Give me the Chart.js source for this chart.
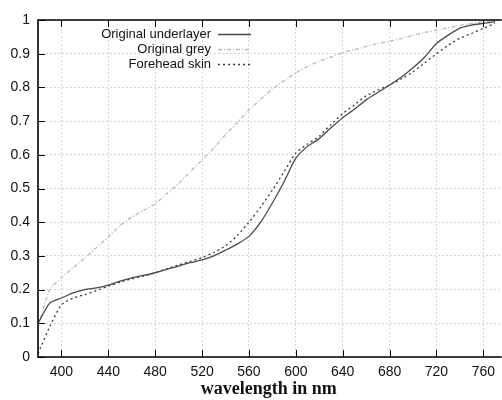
<!DOCTYPE html>
<html>
<head>
<meta charset="utf-8">
<script src="https://cdn.jsdelivr.net/npm/chart.js@4.4.1/dist/chart.umd.min.js"></script>
<style>
  html, body { margin: 0; padding: 0; background: #fff; }
  #wrap { width: 502px; height: 400px; }
</style>
</head>
<body>
<div id="wrap"><canvas id="c" width="502" height="400"></canvas></div>
<script>
// Wavelengths (nm) at which the reflectance curves are sampled
const wavelengths = [380, 390, 400, 410, 420, 430, 440, 450, 460, 470,
                     480, 490, 500, 510, 520, 530, 540, 550, 560, 570,
                     580, 590, 600, 610, 620, 630, 640, 650, 660, 670,
                     680, 690, 700, 710, 720, 730, 740, 750, 760, 770];

// Normalised reflectance of each sample
const underlayer = [0.10, 0.16, 0.175, 0.19, 0.20, 0.205, 0.213, 0.225, 0.235, 0.242,
                    0.25, 0.26, 0.27, 0.28, 0.288, 0.30, 0.317, 0.335, 0.358, 0.40,
                    0.457, 0.52, 0.59, 0.625, 0.648, 0.68, 0.71, 0.735, 0.763, 0.785,
                    0.807, 0.83, 0.858, 0.89, 0.93, 0.955, 0.976, 0.985, 0.99, 0.995];

const grey = [0.09, 0.20, 0.235, 0.265, 0.294, 0.325, 0.356, 0.39, 0.415, 0.435,
              0.455, 0.485, 0.515, 0.55, 0.585, 0.62, 0.66, 0.695, 0.733, 0.765,
              0.795, 0.82, 0.843, 0.862, 0.878, 0.89, 0.903, 0.912, 0.922, 0.93,
              0.937, 0.945, 0.955, 0.963, 0.97, 0.977, 0.984, 0.99, 0.995, 0.998];

const forehead = [0.01, 0.09, 0.155, 0.175, 0.185, 0.197, 0.21, 0.222, 0.232, 0.24,
                  0.25, 0.262, 0.273, 0.284, 0.295, 0.31, 0.33, 0.36, 0.40, 0.445,
                  0.495, 0.55, 0.605, 0.632, 0.655, 0.69, 0.722, 0.748, 0.775, 0.792,
                  0.807, 0.825, 0.846, 0.873, 0.90, 0.925, 0.946, 0.96, 0.975, 0.99];

const seriesNames = ['Original underlayer', 'Original grey', 'Forehead skin'];

// Axis tick values
const xTicks = [400, 440, 480, 520, 560, 600, 640, 680, 720, 760];
const yTicks = [0, 0.1, 0.2, 0.3, 0.4, 0.5, 0.6, 0.7, 0.8, 0.9, 1];
const yTickLabels = ['0', '0.1', '0.2', '0.3', '0.4', '0.5', '0.6', '0.7', '0.8', '0.9', '1'];

const toPoints = arr => arr.map((v, i) => ({ x: wavelengths[i], y: v }));

// Inward tick marks, frame and the key in the upper left
const framePlugin = {
  id: 'frame',
  afterDraw(chart) {
    const { ctx, chartArea: a, scales } = chart;
    ctx.save();
    ctx.strokeStyle = '#000';
    ctx.lineWidth = 1;
    const tl = 7;
    ctx.beginPath();
    scales.x.ticks.forEach(t => {
      const px = Math.round(scales.x.getPixelForValue(t.value)) + 0.5;
      ctx.moveTo(px, a.bottom); ctx.lineTo(px, a.bottom - tl);
      ctx.moveTo(px, a.top); ctx.lineTo(px, a.top + tl);
    });
    scales.y.ticks.forEach(t => {
      const py = Math.round(scales.y.getPixelForValue(t.value)) + 0.5;
      ctx.moveTo(a.left, py); ctx.lineTo(a.left + tl, py);
    });
    ctx.stroke();
    // frame
    ctx.lineWidth = 1.6;
    ctx.beginPath();
    ctx.moveTo(a.right + 2, a.top);
    ctx.lineTo(a.left, a.top);
    ctx.lineTo(a.left, a.bottom);
    ctx.lineTo(a.right + 2, a.bottom);
    ctx.stroke();

    // key
    ctx.font = '13px "Liberation Sans", Arial, sans-serif';
    ctx.textAlign = 'right';
    ctx.textBaseline = 'middle';
    const textRight = 211, x0 = 218, x1 = 251;
    const rowY = [34, 49, 64];
    chart.data.datasets.forEach((ds, i) => {
      ctx.fillStyle = '#111';
      ctx.fillText(ds.label, textRight, rowY[i]);
      ctx.strokeStyle = ds.borderColor;
      ctx.lineWidth = ds.borderWidth;
      ctx.setLineDash(ds.borderDash || []);
      ctx.beginPath();
      ctx.moveTo(x0, rowY[i] + 0.5);
      ctx.lineTo(x1, rowY[i] + 0.5);
      ctx.stroke();
      ctx.setLineDash([]);
    });
    ctx.restore();
  }
};

new Chart(document.getElementById('c'), {
  type: 'line',
  data: {
    datasets: [
      { label: seriesNames[0], data: toPoints(underlayer), borderColor: '#4a4a4a',
        borderWidth: 1.3, pointRadius: 0, tension: 0.2, fill: false },
      { label: seriesNames[1], data: toPoints(grey), borderColor: '#b8b8b8',
        borderWidth: 1.3, borderDash: [4, 2, 1, 2], pointRadius: 0, tension: 0.2, fill: false },
      { label: seriesNames[2], data: toPoints(forehead), borderColor: '#3a3a3a',
        borderWidth: 1.3, borderDash: [2, 3], pointRadius: 0, tension: 0.2, fill: false }
    ]
  },
  options: {
    responsive: false,
    animation: false,
    layout: { padding: { top: 20, right: 0, left: 0, bottom: 0 } },
    plugins: { legend: { display: false }, tooltip: { enabled: false } },
    scales: {
      x: {
        type: 'linear',
        min: 380,
        max: 774,
        afterBuildTicks: s => { s.ticks = xTicks.map(v => ({ value: v })); },
        afterFit: s => { s.height = 43; },
        grid: { color: '#d6d6d6', lineWidth: 1, drawTicks: false },
        border: { display: false, dash: [2, 2] },
        ticks: {
          padding: 7, color: '#111', maxRotation: 0, autoSkip: false,
          font: { family: '"Liberation Sans", Arial, sans-serif', size: 14 }
        },
        title: {
          display: true, text: 'wavelength in nm', color: '#111',
          padding: { top: 0, bottom: 0 },
          font: { family: '"Liberation Serif", "Times New Roman", serif', size: 18, weight: 'bold' }
        }
      },
      y: {
        min: 0,
        max: 1,
        afterBuildTicks: s => { s.ticks = yTicks.map(v => ({ value: v })); },
        afterFit: s => { s.width = 38; },
        grid: { color: '#d6d6d6', lineWidth: 1, drawTicks: false },
        border: { display: false, dash: [2, 2] },
        ticks: {
          padding: 8, color: '#111',
          callback: (v) => { const i = yTicks.findIndex(t => Math.abs(t - v) < 1e-9); return i >= 0 ? yTickLabels[i] : ''; },
          font: { family: '"Liberation Sans", Arial, sans-serif', size: 14 }
        }
      }
    }
  },
  plugins: [framePlugin]
});
</script>
</body>
</html>
